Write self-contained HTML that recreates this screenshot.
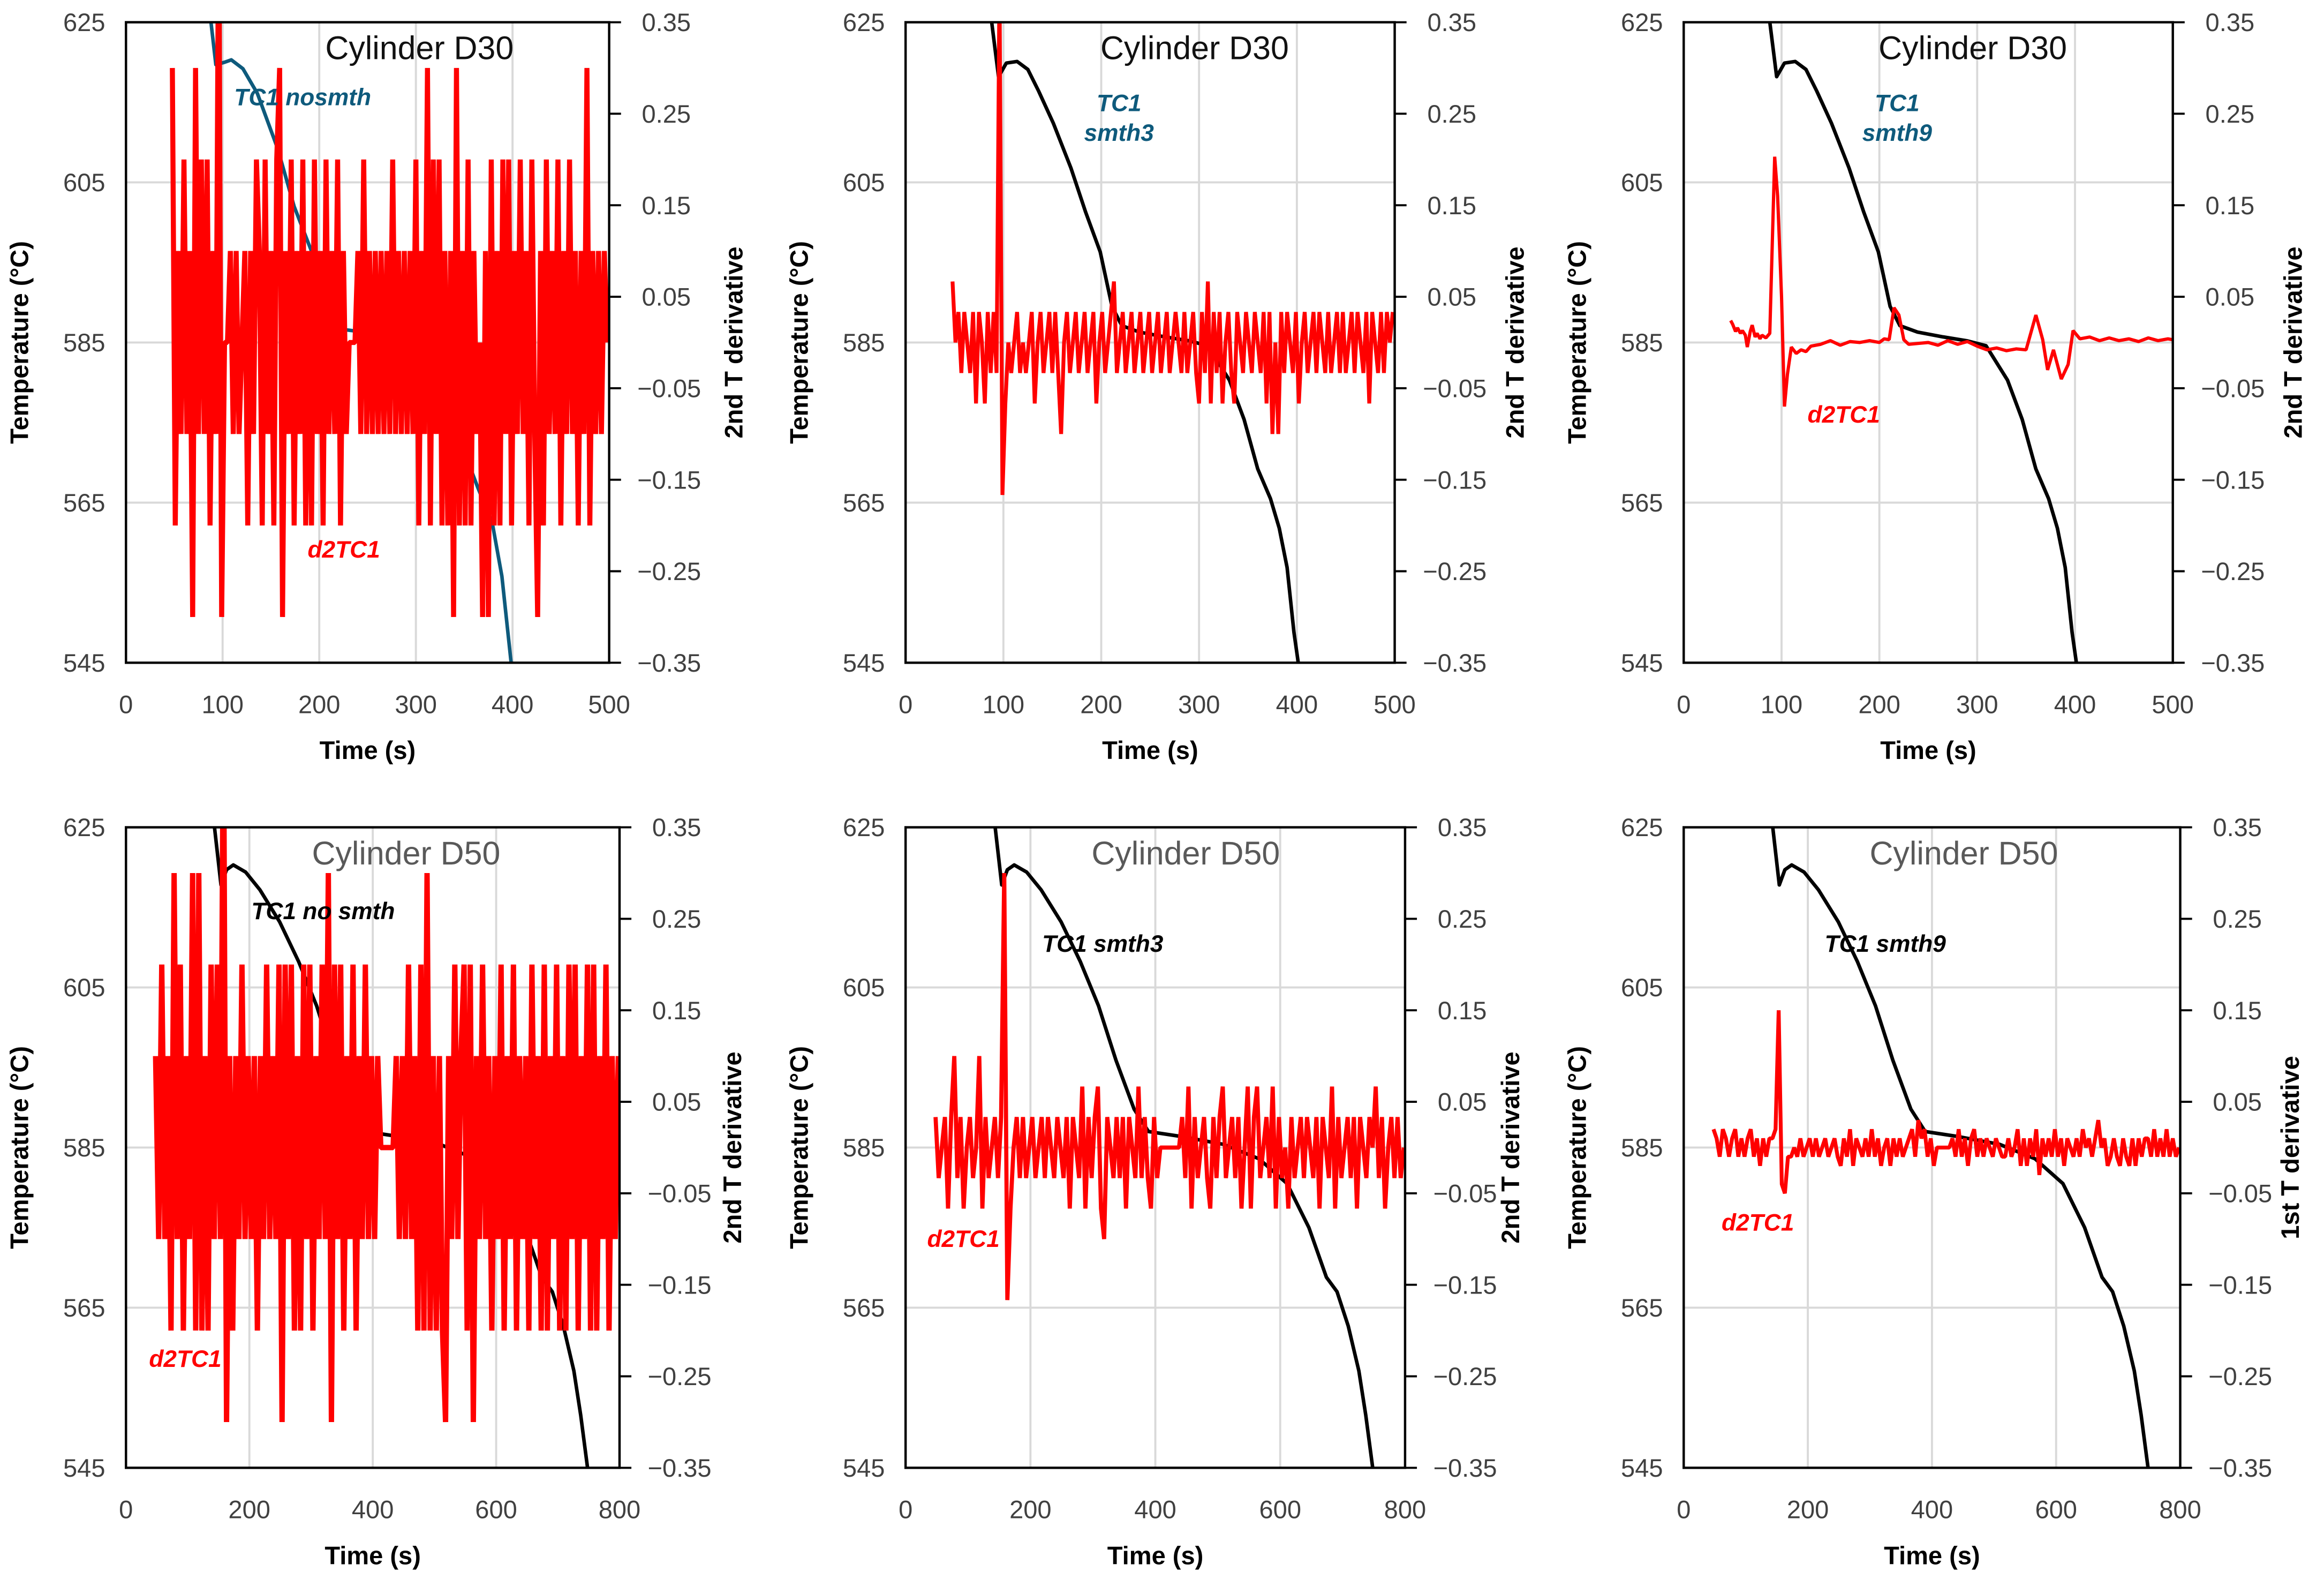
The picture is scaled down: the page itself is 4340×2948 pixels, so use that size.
<!DOCTYPE html>
<html><head><meta charset="utf-8"><style>
html,body{margin:0;padding:0;background:#fff;}
svg{display:block;font-family:"Liberation Sans",sans-serif;}
</style></head><body>
<svg id="fig" width="4340" height="2948" viewBox="0 0 1568 1065" preserveAspectRatio="none" xmlns="http://www.w3.org/2000/svg"></svg>
<script>
// ---- temperature series ----
const d30Time=[87,95,103,114,125,136,151,169,184,199,211,221,239,265,290,309,331,346,360,373,382,390,397,402];
const d30Temp=[626,618.2,619.9,620.1,619.1,616.4,612.4,606.8,601.3,596.3,589.5,587.1,586.3,585.7,585.2,584.6,580.3,575.4,569.2,565.5,561.8,556.9,548.8,544.5];
const d30NoTime=[87,93,102,109,121,136,157,174,192,206,220,259,287,315,343,364,379,389,399];
const d30NoTemp=[626,619.7,620,620.3,619.2,616.1,609.2,602,596.4,589.7,586.7,586.1,585.8,581.9,573.6,566.9,562.5,555.8,544.5];
const d50Time=[142,154,163,174,194,217,249,280,309,337,366,389,440,509,566,611,646,674,691,709,726,737,749];
const d50Temp=[626,617.8,619.7,620.3,619.4,617.2,613.2,608.2,602.7,595.9,589.8,587,586.4,585.4,583.6,580.5,575,568.8,567,562.7,557.1,551.6,544.5];
// ---- derivative series (level units given by *Unit constants) ----
const p1Unit=0.1, p1Start=48, p1Step=3;
const p1Deriv=[3,-2,1,-1,2,-1,1,-3,3,-1, 2,-1,2,-2,1,-1,5,-3,0,0, 1,-1,1,-1,0,1,-2,1,-1,2, 1,-2,2,-1,1,-2,2,3,-3,1,
 -1,2,-2,1,-1,2,-2,1,-2,2, -1,1,-2,2,-1,1,-1,2,-2,1, -1,0,0,0,1,-1,2,-1,1,-1, 1,-1,1,-1,1,-1,2,-1,1,-1,
 1,-1,1,-1,2,-2,1,-1,3,-2, 2,-1,2,-2,1,-2,1,-3,3,-2, 1,-2,2,-2,1,-1,0,-3,1,-3, 2,-2,1,-2,2,-1,2,-2,1,-1,
 2,-1,1,-2,2,-1,-3,1,-2,2, -1,1,-1,2,-2,1,-1,2,-1,1, -2,1,-1,3,-2,1,-1,1,-1,1, 0];
const p2Unit=1/30, p2Start=48, p2Step=3;
const p2Deriv=[2,0,1,-1,1,0,-1,1,-2,1, 0,-2,1,-1,1,-1,12,-5,-2,0, -1,0,1,-1,0,-1,0,1,-2,0, 1,-1,0,1,-1,1,-1,-3,0,1,
 -1,0,1,-1,0,1,-1,0,1,-2, 0,1,-1,0,1,2,-1,0,1,-1, 0,1,-1,0,1,-1,0,1,-1,0, 1,-1,0,1,-1,0,1,0,-1,1,
 -1,0,1,-1,-2,1,-1,2,-2,1, -1,1,-2,0,1,-1,-2,1,0,-1, 1,0,-1,1,0,-1,1,-2,1,-3, 0,-3,1,-1,1,0,-1,1,-2,0,
 1,-1,0,1,-1,1,0,-1,1,-1, 0,1,-1,1,-1,0,1,-1,1,0, -1,1,-2,1,0,-1,1,-1,1,0, 1];
const p3Time=[48,50,53,55,58,60,63,65,68,70,73,75,78,80,84,88,93,96,100,103,106,110,115,120,125,130,140,150,160,170,180,190,200,205,210,215,220,225,230,240,250,260,270,280,290,300,310,320,330,340,350,360,367,372,378,386,393,398,405,415,425,435,445,455,465,475,485,495,500];
const p3Deriv=[0.024,0.02,0.012,0.016,0.01,0.013,0.008,-0.005,0.012,0.019,0.006,0.01,0.004,0.008,0.005,0.01,0.203,0.16,0.05,-0.07,-0.035,-0.005,-0.012,-0.008,-0.01,-0.004,-0.002,0.002,-0.003,0.001,0.0,0.002,0.0,0.004,0.003,0.038,0.03,0.003,-0.002,-0.001,0.0,-0.003,0.002,-0.002,0.001,-0.004,-0.008,-0.006,-0.009,-0.007,-0.008,0.03,0.003,-0.03,-0.008,-0.04,-0.024,0.013,0.004,0.006,0.002,0.005,0.002,0.004,0.001,0.005,0.002,0.004,0.003];
const p4Unit=0.1, p4Start=48, p4Step=5;
const p4Deriv=[1,-1,2,-1,1,-2,3,-1,2,-2, 1,-1,3,-2,3,-2,1,-2,2,-1, 2,-1,5,-3,1,-2,1,-1,2,-1, 1,-1,1,-2,1,-1,2,-1,1,-1,
 2,-3,2,-1,2,-2,1,-2,2,-1, 2,-2,1,-1,2,-1,3,-3,2,-1, 2,-2,1,-1,2,-2,1,-1,2,-1, 1,-1,1,0,0,0,0,0,1,-1,
 1,-1,2,-1,1,-2,2,-2,3,-2, 1,-2,1,-2,-3,1,-1,2,-1,1, 2,-2,2,-3,1,-1,2,-1,1,-2, 1,-1,2,-2,1,-1,2,-2,1,-1,
 1,-2,2,-1,1,-2,2,-2,1,-1, 2,-2,1,-2,2,-1,2,-2,1,-1, 2,-2,2,-2,1,-1,2,-2,1,-1, 1];
const p5Unit=1/30, p5Start=48, p5Step=5;
const p5Deriv=[1,-1,0,1,-2,1,3,-1,1,-2, 0,1,-1,0,3,-2,1,-1,0,1, -1,1,9,-5,-2,0,1,-1,1,-1, 0,1,-1,0,1,-1,1,0,-1,1,
 0,-1,1,-2,1,0,-1,2,-2,1, -1,1,2,-2,-3,1,0,-1,1,-1, 1,-2,1,0,-1,2,-1,1,-1,-2, 1,-1,0,0,0,0,0,0,0,1,
 -1,2,-2,1,-1,0,1,-1,-2,1, -1,1,2,-1,0,1,-1,1,-2,0, 2,-2,1,2,-1,0,1,-1,2,-2, 1,-1,0,-2,1,-1,0,1,-1,1,
 0,-1,1,-2,1,0,-1,2,-2,1, -1,0,1,-1,1,-2,1,0,-1,1, 0,2,-1,1,-2,0,1,-1,1,-1, 0];
const p6Unit=0.01, p6Start=48, p6Step=5;
const p6Deriv=[2,1,-1,2,1,-1,1,2,-1,1, -1,1,2,-1,1,-2,1,-1,1,1, 2,15,-4,-5,-1,-1,0,-1,1,-1, 0,1,-1,1,-1,0,1,-1,0,1,
 -1,-2,1,-1,2,-2,1,0,-1,1, -1,2,-1,1,-2,0,1,-2,1,-1, 1,-1,0,1,2,-1,3,1,2,-1, 1,-2,0,0,0,0,0,1,-1,2,
 -1,1,-2,1,2,-1,1,-1,1,0, -1,1,0,-1,-1,1,-1,0,2,-2, 1,-2,1,-1,2,-3,1,-1,1,-1, 2,-1,1,-2,1,0,-1,1,-1,2,
 0,1,-1,1,3,0,1,-2,-1,1, -1,-2,1,-1,-2,1,-2,1,-1,1, 1,-1,2,-1,1,-1,2,-1,1,-1, 0];
const tempTicks=[625,605,585,565,545];
const derivTicks=[0.35,0.25,0.15,0.05,-0.05,-0.15,-0.25,-0.35];
const timeTicks500=[0,100,200,300,400,500];
const timeTicks800=[0,200,400,600,800];

const NS="http://www.w3.org/2000/svg";
const svg=document.getElementById('fig');
function mk(tag,attrs,parent){const e=document.createElementNS(NS,tag);for(const k in attrs)e.setAttribute(k,attrs[k]);(parent||svg).appendChild(e);return e;}
function txt(s,attrs,parent){const e=mk('text',attrs,parent);e.textContent=s;return e;}
function fmt(v){const s=Math.abs(v).toFixed(2);return (v<0?'\u22120':'0')+s.slice(1);}
function regular(start,step,arr){return arr.map((_,i)=>start+i*step);}

function panel(p){
  const g=mk('g',{});
  
  
  const {L,R,T,B,xmax}=p;
  const x=t=>L+t/xmax*(R-L);
  const yT=v=>T+(625-v)/80*(B-T);
  const yD=v=>T+(0.35-v)/0.7*(B-T);
  const cid='clip-'+p.name;
  const cp=mk('clipPath',{id:cid},g);mk('rect',{x:L,y:T,width:R-L,height:B-T},cp);
  p.xticks.forEach(t=>{if(t>0&&t<xmax){const l=mk('line',{x1:x(t),x2:x(t),y1:T,y2:B,stroke:'#d9d9d9','stroke-width':1.4},g);
    }});
  [605,585,565].forEach(v=>{const l=mk('line',{x1:L,x2:R,y1:yT(v),y2:yT(v),stroke:'#d9d9d9','stroke-width':1.4},g);
    });
  const tp=p.tTime.map((t,i)=>(i?'L':'M')+x(t).toFixed(2)+','+yT(p.tTemp[i]).toFixed(2)).join('');
  const dp=p.dTime.map((t,i)=>(i?'L':'M')+x(t).toFixed(2)+','+yD(p.dVal[i]).toFixed(2)).join('');
  const tl=mk('path',{d:tp,fill:'none',stroke:p.tColor,'stroke-width':2.4,'stroke-linejoin':'round','clip-path':'url(#'+cid+')'},g);
  
  const dl=mk('path',{d:dp,fill:'none',stroke:'#ff0000','stroke-width':p.redW,'stroke-linejoin':'bevel','clip-path':'url(#'+cid+')'},g);
  
  const fr=mk('rect',{x:L,y:T,width:R-L,height:B-T,fill:'none',stroke:'#000','stroke-width':1.6},g);
  
  tempTicks.forEach(v=>{const e=txt(String(v),{x:L-14,y:yT(v)+6,'text-anchor':'end','font-size':17,fill:'#404040'},g);
    });
  derivTicks.forEach(v=>{mk('line',{x1:R,x2:R+8,y1:yD(v),y2:yD(v),stroke:'#000','stroke-width':1.4},g);
    const e=txt(fmt(v),{x:R+(v<0?19:22),y:yD(v)+6,'font-size':17,fill:'#404040'},g);
    });
  p.xticks.forEach(t=>{const e=txt(String(t),{x:x(t),y:B+34,'text-anchor':'middle','font-size':17,fill:'#404040'},g);
    });
  const xt=txt('Time (s)',{x:(L+R)/2,y:B+65,'text-anchor':'middle','font-size':17,'font-weight':'bold',fill:'#000'},g);
  
  const cy=(T+B)/2;
  const yl=txt('Temperature (\u00b0C)',{x:0,y:0,'text-anchor':'middle','font-size':17,'font-weight':'bold',transform:`translate(${L-66},${cy}) rotate(-90)`},g);
  
  const yr=txt(p.rTitle,{x:0,y:0,'text-anchor':'middle','font-size':17,'font-weight':'bold',transform:`translate(${R+p.rOff},${cy}) rotate(-90)`},g);
  
  const ti=txt(p.title,{x:p.titleX,y:T+25,'text-anchor':'middle','font-size':22,fill:p.titleColor},g);
  
  p.labels.forEach(lb=>{const e=txt(lb.s,{x:lb.x,y:lb.y,'text-anchor':lb.a||'middle','font-size':16,'font-weight':'bold','font-style':'italic',fill:lb.c},g);
    });
}
const blue='#0e5a7c';
panel({name:'panel-d30-nosmth',L:85,R:411,T:15,B:447,xmax:500,xticks:timeTicks500,tTime:d30NoTime,tTemp:d30NoTemp,tColor:blue,
  dTime:regular(p1Start,p1Step,p1Deriv),dVal:p1Deriv.map(v=>v*p1Unit),redW:3.4,rTitle:'2nd T derivative',rOff:90,
  title:'Cylinder D30',titleX:283,titleColor:'#111',
  labels:[{s:'TC1 nosmth',x:158,y:71,a:'start',c:blue,n:'series-label-tc1'},{s:'d2TC1',x:232,y:376,c:'#ff0000',n:'series-label-d2tc1'}]});
panel({name:'panel-d30-smth3',L:611,R:941,T:15,B:447,xmax:500,xticks:timeTicks500,tTime:d30Time,tTemp:d30Temp,tColor:'#000',
  dTime:regular(p2Start,p2Step,p2Deriv),dVal:p2Deriv.map(v=>v*p2Unit),redW:2.6,rTitle:'2nd T derivative',rOff:87,
  title:'Cylinder D30',titleX:806,titleColor:'#111',
  labels:[{s:'TC1',x:755,y:75,c:blue,n:'series-label-tc1'},{s:'smth3',x:755,y:95,c:blue,n:'series-label-tc1-smth'}]});
panel({name:'panel-d30-smth9',L:1136,R:1466,T:15,B:447,xmax:500,xticks:timeTicks500,tTime:d30Time,tTemp:d30Temp,tColor:'#000',
  dTime:p3Time,dVal:p3Deriv,redW:2.2,rTitle:'2nd T derivative',rOff:87,
  title:'Cylinder D30',titleX:1331,titleColor:'#111',
  labels:[{s:'TC1',x:1280,y:75,c:blue,n:'series-label-tc1'},{s:'smth9',x:1280,y:95,c:blue,n:'series-label-tc1-smth'},{s:'d2TC1',x:1244,y:285,c:'#ff0000',n:'series-label-d2tc1'}]});
panel({name:'panel-d50-nosmth',L:85,R:418,T:558,B:990,xmax:800,xticks:timeTicks800,tTime:d50Time,tTemp:d50Temp,tColor:'#000',
  dTime:regular(p4Start,p4Step,p4Deriv),dVal:p4Deriv.map(v=>v*p4Unit),redW:3.6,rTitle:'2nd T derivative',rOff:82,
  title:'Cylinder D50',titleX:274,titleColor:'#595959',
  labels:[{s:'TC1 no smth',x:218,y:620,c:'#000',n:'series-label-tc1'},{s:'d2TC1',x:125,y:922,c:'#ff0000',n:'series-label-d2tc1'}]});
panel({name:'panel-d50-smth3',L:611,R:948,T:558,B:990,xmax:800,xticks:timeTicks800,tTime:d50Time,tTemp:d50Temp,tColor:'#000',
  dTime:regular(p5Start,p5Step,p5Deriv),dVal:p5Deriv.map(v=>v*p5Unit),redW:2.8,rTitle:'2nd T derivative',rOff:77,
  title:'Cylinder D50',titleX:800,titleColor:'#595959',
  labels:[{s:'TC1 smth3',x:744,y:642,c:'#000',n:'series-label-tc1'},{s:'d2TC1',x:650,y:841,c:'#ff0000',n:'series-label-d2tc1'}]});
panel({name:'panel-d50-smth9',L:1136,R:1471,T:558,B:990,xmax:800,xticks:timeTicks800,tTime:d50Time,tTemp:d50Temp,tColor:'#000',
  dTime:regular(p6Start,p6Step,p6Deriv),dVal:p6Deriv.map(v=>v*p6Unit),redW:2.6,rTitle:'1st T derivative',rOff:80,
  title:'Cylinder D50',titleX:1325,titleColor:'#595959',
  labels:[{s:'TC1 smth9',x:1272,y:642,c:'#000',n:'series-label-tc1'},{s:'d2TC1',x:1186,y:830,c:'#ff0000',n:'series-label-d2tc1'}]});
</script>
</body></html>
